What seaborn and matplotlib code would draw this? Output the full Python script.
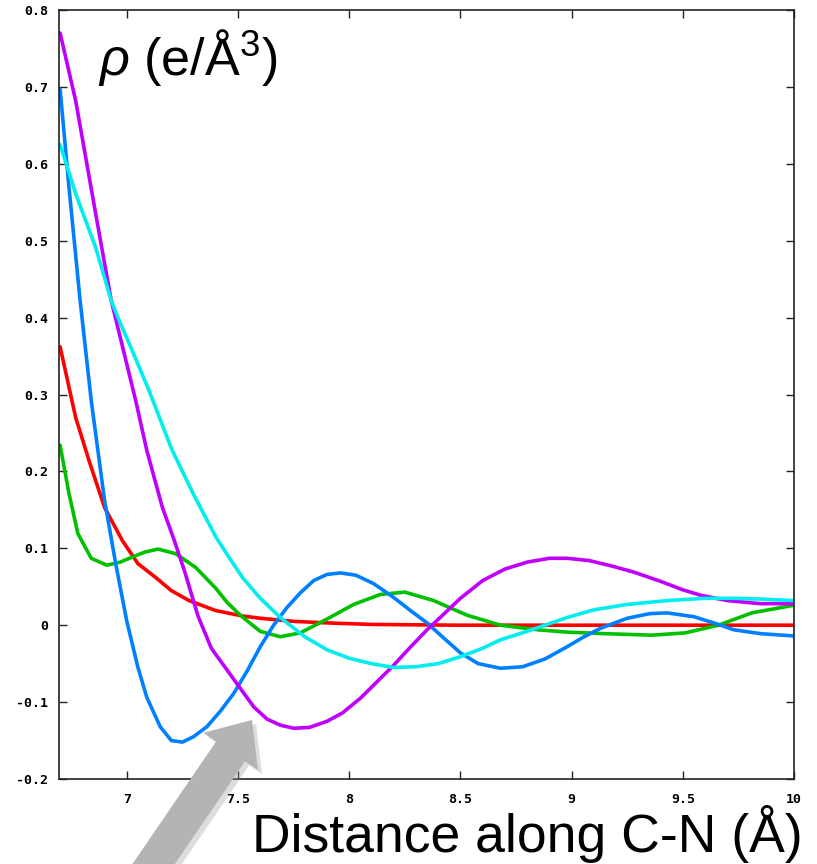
import numpy as np
import pandas as pd
import seaborn as sns
import matplotlib
matplotlib.use("Agg")
import matplotlib.pyplot as plt
from matplotlib.patches import FancyArrow
from matplotlib.transforms import IdentityTransform
import matplotlib.patheffects as pe

# Electron density profiles along the C-N direction
red_x = [6.70, 6.77, 6.83, 6.90, 6.98, 7.05, 7.13, 7.20, 7.28, 7.40, 7.52, 7.60,
         7.75, 7.90, 8.10, 8.50, 9.00, 9.50, 10.0]
red_y = [0.362, 0.270, 0.214, 0.153, 0.110, 0.080, 0.062, 0.045, 0.032, 0.019, 0.012,
         0.009, 0.005, 0.003, 0.001, 0.0, 0.0, 0.0, 0.0]

green_x = [6.70, 6.74, 6.78, 6.84, 6.91, 6.97, 7.02, 7.08, 7.14, 7.22, 7.31, 7.40,
           7.45, 7.51, 7.60, 7.69, 7.78, 7.90, 8.02, 8.14, 8.25, 8.38, 8.53, 8.68,
           8.85, 8.98, 9.15, 9.36, 9.51, 9.66, 9.81, 10.0]
green_y = [0.234, 0.171, 0.119, 0.087, 0.078, 0.082, 0.088, 0.095, 0.099, 0.093,
           0.075, 0.048, 0.030, 0.013, -0.008, -0.015, -0.010, 0.008, 0.027, 0.040,
           0.043, 0.032, 0.013, 0.0, -0.006, -0.009, -0.011, -0.013, -0.010, 0.0,
           0.016, 0.026]

blue_x = [6.70, 6.74, 6.79, 6.84, 6.90, 6.95, 7.00, 7.05, 7.09, 7.15, 7.20, 7.25,
          7.30, 7.36, 7.42, 7.48, 7.54, 7.60, 7.66, 7.72, 7.78, 7.84, 7.90, 7.96,
          8.03, 8.11, 8.20, 8.28, 8.35, 8.43, 8.50, 8.58, 8.68, 8.78, 8.88, 8.98,
          9.05, 9.13, 9.25, 9.35, 9.43, 9.55, 9.65, 9.73, 9.85, 10.0]
blue_y = [0.697, 0.569, 0.422, 0.292, 0.162, 0.080, 0.005, -0.055, -0.094, -0.132,
          -0.150, -0.152, -0.145, -0.132, -0.112, -0.089, -0.060, -0.028, 0.0,
          0.023, 0.042, 0.058, 0.066, 0.068, 0.065, 0.054, 0.036, 0.018, 0.003,
          -0.018, -0.036, -0.050, -0.056, -0.054, -0.044, -0.028, -0.016, -0.004,
          0.009, 0.015, 0.016, 0.011, 0.002, -0.006, -0.011, -0.014]

purple_x = [6.70, 6.77, 6.86, 6.93, 7.04, 7.09, 7.16, 7.21, 7.26, 7.32, 7.38, 7.45,
            7.51, 7.57, 7.63, 7.69, 7.75, 7.82, 7.90, 7.97, 8.05, 8.12, 8.20, 8.28,
            8.35, 8.42, 8.50, 8.60, 8.70, 8.80, 8.90, 8.98, 9.08, 9.18, 9.28, 9.40,
            9.50, 9.58, 9.70, 9.85, 10.0]
purple_y = [0.770, 0.682, 0.535, 0.422, 0.292, 0.227, 0.153, 0.113, 0.070, 0.012,
            -0.030, -0.058, -0.082, -0.106, -0.122, -0.130, -0.134, -0.133, -0.125,
            -0.114, -0.095, -0.075, -0.052, -0.027, -0.006, 0.013, 0.035, 0.058,
            0.073, 0.082, 0.087, 0.087, 0.084, 0.077, 0.069, 0.057, 0.046, 0.039,
            0.032, 0.028, 0.028]

cyan_x = [6.70, 6.77, 6.86, 6.93, 6.96, 7.02, 7.10, 7.20, 7.30, 7.40, 7.46, 7.52,
          7.60, 7.69, 7.80, 7.90, 8.00, 8.10, 8.20, 8.30, 8.40, 8.50, 8.60, 8.68,
          8.80, 8.90, 8.98, 9.10, 9.25, 9.43, 9.60, 9.73, 9.85, 10.0]
cyan_y = [0.625, 0.561, 0.491, 0.422, 0.400, 0.360, 0.305, 0.230, 0.170, 0.115,
          0.088, 0.062, 0.035, 0.010, -0.015, -0.032, -0.043, -0.050, -0.055,
          -0.054, -0.050, -0.041, -0.030, -0.019, -0.008, 0.002, 0.010, 0.020,
          0.027, 0.032, 0.035, 0.035, 0.034, 0.032]

series_names = ["red", "green", "blue", "purple", "cyan"]
series_colors = ["#ff0000", "#00c000", "#0080ff", "#c000ff", "#00eeee"]

x_ticks = [7, 7.5, 8, 8.5, 9, 9.5, 10]
x_tick_labels = ["7", "7.5", "8", "8.5", "9", "9.5", "10"]
y_ticks = [-0.2, -0.1, 0, 0.1, 0.2, 0.3, 0.4, 0.5, 0.6, 0.7, 0.8]
y_tick_labels = ["-0.2", "-0.1", "0", "0.1", "0.2", "0.3", "0.4", "0.5", "0.6",
                 "0.7", "0.8"]

xs = [red_x, green_x, blue_x, purple_x, cyan_x]
ys = [red_y, green_y, blue_y, purple_y, cyan_y]
df = pd.concat(
    [pd.DataFrame({"d": x, "rho": y, "curve": n}) for x, y, n in zip(xs, ys, series_names)],
    ignore_index=True,
)

sns.set_style("ticks")
plt.rcParams["mathtext.fontset"] = "custom"
plt.rcParams["mathtext.rm"] = "Liberation Sans"
plt.rcParams["mathtext.it"] = "Liberation Sans:italic"
plt.rcParams["text.color"] = "black"

W, H = 817, 864
fig = plt.figure(figsize=(W / 100, H / 100), dpi=100)
ax = fig.add_axes([59 / W, (H - 779) / H, (794 - 59) / W, (779 - 10) / H])

sns.lineplot(data=df, x="d", y="rho", hue="curve", hue_order=series_names,
             palette=dict(zip(series_names, series_colors)), estimator=None,
             sort=True, linewidth=2.6, legend=False, ax=ax)
for line in ax.get_lines():
    line.set_solid_joinstyle("round")

ax.set_xlim(6.695, 10.0)
ax.set_ylim(-0.2, 0.8)
ax.set_xticks(x_ticks)
ax.set_xticklabels(x_tick_labels)
ax.set_yticks(y_ticks)
ax.set_yticklabels(y_tick_labels)
ax.set_xlabel("")
ax.set_ylabel("")
ax.tick_params(direction="in", length=6, width=1, top=True, right=True,
               color="#222222", labelcolor="black")
ax.tick_params(axis="y", pad=8)
ax.tick_params(axis="x", pad=10)
for lab in ax.get_xticklabels() + ax.get_yticklabels():
    lab.set_fontfamily("DejaVu Sans Mono")
    lab.set_fontweight("bold")
    lab.set_fontsize(9.5)
for sp in ax.spines.values():
    sp.set_visible(True)
    sp.set_color("#222222")
    sp.set_linewidth(1.2)

fig.text(98 / W, (H - 75) / H, "$\\rho$ (e/Å$^{3}$)", fontsize=37.5,
         family="Liberation Sans", ha="left", va="baseline")
fig.text(803 / W, 12 / H, "Distance along C-N (Å)", fontsize=38.5,
         family="Liberation Sans", ha="right", va="baseline")

# Gray pointer arrow towards the minima
tip = np.array([252.0, H - 720.0])
direction = np.array([84.0, 123.0])
direction /= np.linalg.norm(direction)
length = (tip[1] + 12) / direction[1]
start = tip - direction * length
arrow = FancyArrow(start[0], start[1], *(direction * length), width=35,
                   head_width=66, head_length=38, length_includes_head=True,
                   transform=IdentityTransform(), color="#b4b4b4", lw=0,
                   path_effects=[pe.SimplePatchShadow(offset=(3, -3), shadow_rgbFace="#909090", alpha=0.3),
                                 pe.Normal()])
fig.add_artist(arrow)

fig.savefig("out.png", dpi=100)
